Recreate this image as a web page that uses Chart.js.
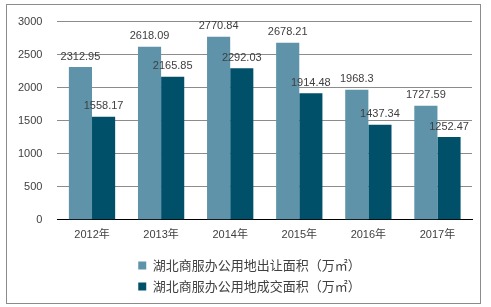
<!DOCTYPE html>
<html><head><meta charset="utf-8">
<script src="https://cdn.jsdelivr.net/npm/chart.js@4/dist/chart.umd.min.js"></script>
<style>
html,body{margin:0;padding:0;background:#fff;}
#wrap{position:relative;width:491px;height:307px;}
</style></head>
<body><div id="wrap"><canvas id="c" width="491" height="307"></canvas></div>
<script>
const categories = ["2012年","2013年","2014年","2015年","2016年","2017年"];
const seriesNames = ["湖北商服办公用地出让面积（万㎡）","湖北商服办公用地成交面积（万㎡）"];
const supplyValues = [2312.95, 2618.09, 2770.84, 2678.21, 1968.3, 1727.59];
const dealValues = [1558.17, 2165.85, 2292.03, 1914.48, 1437.34, 1252.47];
const yTicks = [0, 500, 1000, 1500, 2000, 2500, 3000];

const FONT = "'Liberation Sans', 'Noto Sans CJK SC', sans-serif";
const CJK = "'Noto Sans CJK SC', 'Liberation Sans', sans-serif";

const labelPlugin = {
  id: 'labels',
  afterLayout(chart) {
    const lg = chart.legend;
    if (lg) { lg.left += 12; lg.right += 12; }
  },
  afterDatasetsDraw(chart) {
    const ctx = chart.ctx;
    ctx.save();
    ctx.font = "11px " + FONT;
    ctx.fillStyle = '#404040';
    ctx.textAlign = 'center';
    ctx.textBaseline = 'bottom';
    chart.data.datasets.forEach((ds, i) => {
      const meta = chart.getDatasetMeta(i);
      meta.data.forEach((bar, j) => {
        ctx.fillText(String(ds.data[j]), bar.x, bar.y - 5);
      });
    });
    ctx.restore();
  },
  afterDraw(chart) {
    const ctx = chart.ctx;
    ctx.save();
    ctx.strokeStyle = '#8c8c8c';
    ctx.lineWidth = 1;
    ctx.strokeRect(6.5, 4.5, 474, 299);
    ctx.restore();
  }
};

new Chart(document.getElementById('c'), {
  type: 'bar',
  data: {
    labels: categories,
    datasets: [
      { label: seriesNames[0], data: supplyValues, backgroundColor: '#5e93a9' },
      { label: seriesNames[1], data: dealValues, backgroundColor: '#00506a' }
    ]
  },
  options: {
    responsive: false,
    animation: false,
    devicePixelRatio: 1,
    layout: { padding: { left: 3, right: 19, top: 12, bottom: 4 } },
    datasets: { bar: { categoryPercentage: 0.67, barPercentage: 1.0 } },
    scales: {
      x: {
        grid: { display: false, drawTicks: false },
        border: { color: '#000', width: 1 },
        ticks: { color: '#404040', font: { size: 11, family: FONT }, padding: 9 }
      },
      y: {
        min: 0, max: 3000,
        afterBuildTicks(scale) { scale.ticks = yTicks.map(v => ({ value: v })); },
        grid: { color: '#8c8c8c', drawTicks: false },
        border: { display: false },
        ticks: { color: '#404040', font: { size: 11, family: FONT }, padding: 15,
                 callback: v => String(v) }
      }
    },
    plugins: {
      legend: {
        position: 'bottom',
        maxWidth: 260,
        labels: {
          boxWidth: 8, boxHeight: 8, padding: 8,
          color: '#404040',
          font: { size: 13, family: CJK }
        }
      },
      tooltip: { enabled: false }
    }
  },
  plugins: [labelPlugin]
});
</script></body></html>
